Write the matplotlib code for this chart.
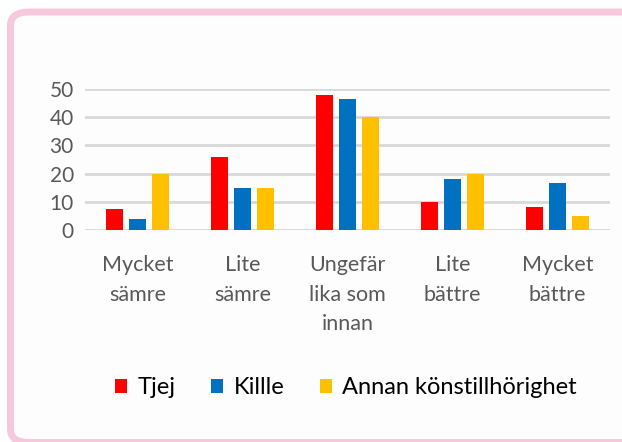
import numpy as np
import matplotlib
matplotlib.use('Agg')
import matplotlib.pyplot as plt
from matplotlib.patches import FancyBboxPatch, Patch

kategorier = ['Mycket\nsämre', 'Lite\nsämre', 'Ungefär\nlika som\ninnan', 'Lite\nbättre', 'Mycket\nbättre']
tjej = [7.5, 26, 48, 10, 8]
killle = [4, 15, 46.5, 18, 16.5]
annan = [20, 15, 40, 20, 5]
serier = ['Tjej', 'Killle', 'Annan könstillhörighet']
farger = ['#FF0000', '#0070C0', '#FFC000']
yticks = [0, 10, 20, 30, 40, 50]

plt.rcParams['font.family'] = ['Lato', 'DejaVu Sans']

W, H = 622, 442
fig = plt.figure(figsize=(W / 100, H / 100), dpi=100)
fig.patch.set_facecolor('white')

# rosa ram med rundade hörn
ram = FancyBboxPatch((10.5 / W, -0.5 / H), (640 - 10.5) / W, (430 + 0.5) / H,
                     boxstyle='round,pad=0,rounding_size=0.03',
                     transform=fig.transFigure, facecolor='#FDFDFD',
                     edgecolor='#F7C7DC', linewidth=5.0, zorder=-5)
fig.patches.append(ram)

ax = fig.add_axes([85 / W, (H - 230) / H, 525 / W, 141 / H])
ax.set_facecolor('none')
ax.set_zorder(2)

x = np.arange(len(kategorier))
bredd = 0.171
steg = 0.219
for i, (vals, namn, f) in enumerate(zip([tjej, killle, annan], serier, farger)):
    ax.bar(x + (i - 1) * steg, vals, bredd, color=f, label=namn, zorder=3)

ax.set_xlim(-0.5, len(kategorier) - 0.5)
ax.set_ylim(0, 50)
ax.set_yticks(yticks)
ax.yaxis.grid(True, color='#D9D9D9', linewidth=2, zorder=0)
ax.axhline(0, color='#D9D9D9', linewidth=2, zorder=1)
for s in ax.spines.values():
    s.set_visible(False)

ax.set_xticks(x)
ax.set_xticklabels(kategorier, linespacing=1.6)
ax.tick_params(axis='x', length=0, pad=18, labelsize=15.5, labelcolor='#595959')
ax.tick_params(axis='y', length=0, pad=8, labelsize=15, labelcolor='#595959')

handtag = [Patch(facecolor=f, edgecolor='none') for f in farger]
fig.legend(handtag, serier, loc='center', bbox_to_anchor=(346 / W, 54 / H),
           ncol=3, frameon=False, fontsize=17, handlelength=0.5, handleheight=0.5,
           handletextpad=0.45, columnspacing=1.5, labelcolor='black')

fig.savefig('out.png', dpi=100)
